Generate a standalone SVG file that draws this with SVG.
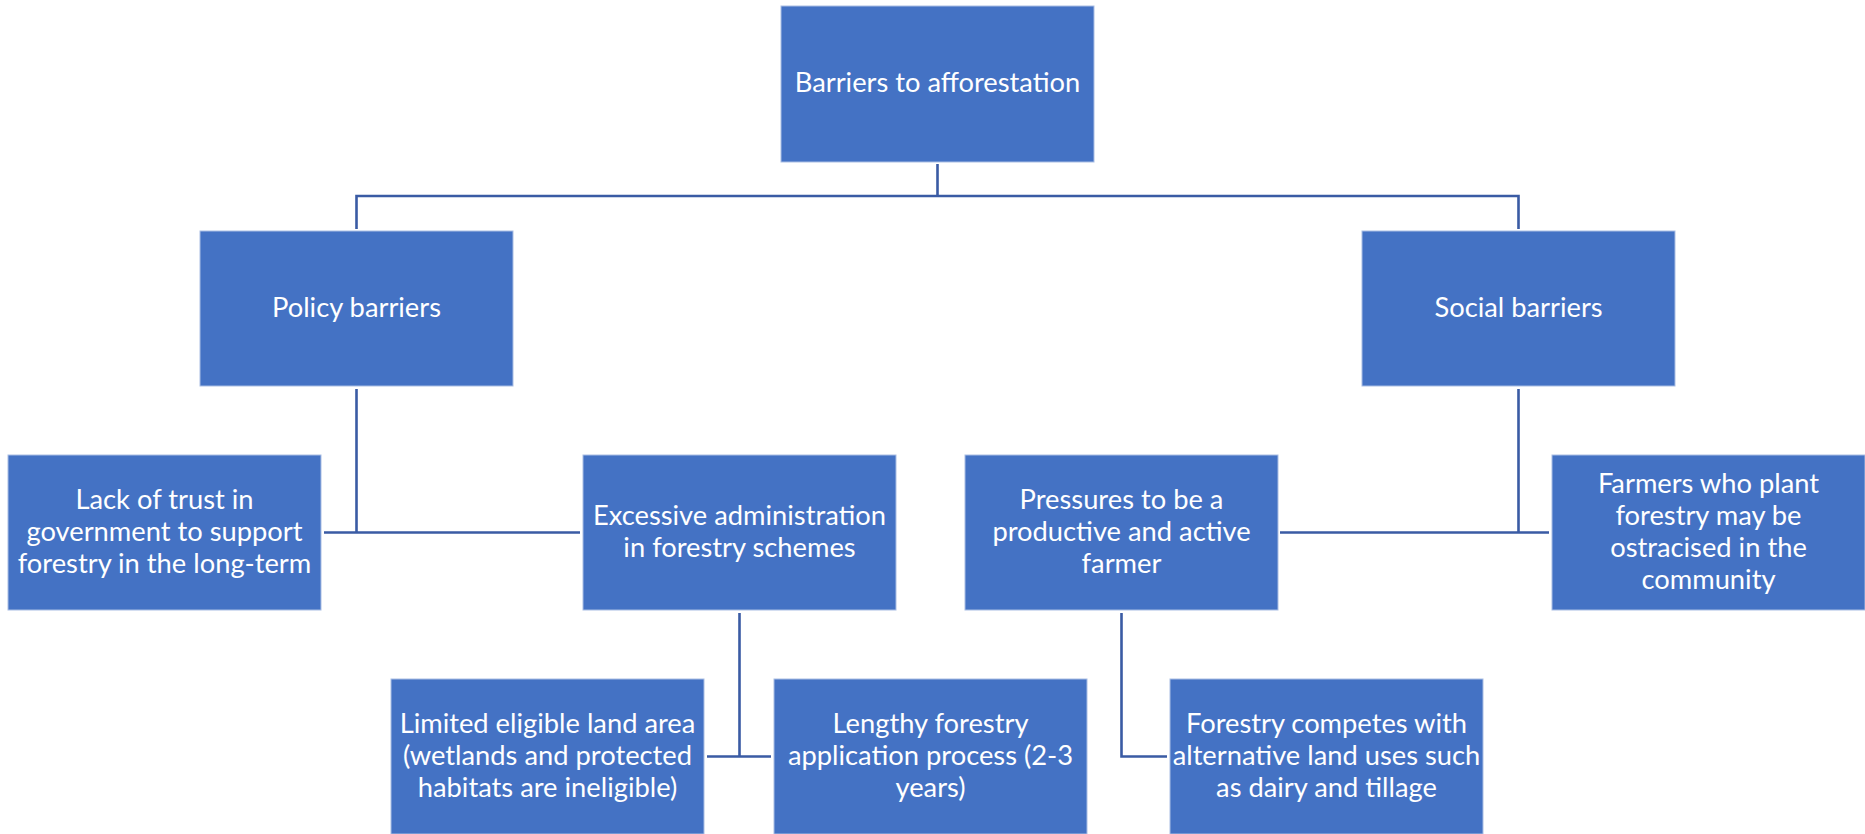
<svg xmlns="http://www.w3.org/2000/svg" width="1865" height="834" viewBox="0 0 1865 834">
<style>
.box{fill:#4472C4;stroke:#A9BEE4;stroke-width:1}
.t{font-family:Lato,"Open Sans","Liberation Sans",sans-serif;font-size:27.3px;fill:#FFFFFF;text-anchor:middle}
.c{fill:none;stroke:#3A5BA4;stroke-width:2.6}
</style>
<rect width="1865" height="834" fill="#FFFFFF"/>
<g id="connectors">
<path class="c" d="M937.5,164 V196 M356.5,196 H1518.5 M356.5,194.7 V229 M1518.5,194.7 V229"/>
<path class="c" d="M356.5,389 V532.5 M324,532.5 H580"/>
<path class="c" d="M1518.5,389 V532.5 M1280,532.5 H1549"/>
<path class="c" d="M739.5,613 V756.5 M707,756.5 H771"/>
<path class="c" d="M1121.5,613 V756.5 H1167"/>
</g>
<g id="root">
<rect class="box" x="781" y="6" width="313" height="156"/>
<text class="t" x="937.5" y="92">Barriers to afforestation</text>
</g>
<g id="policy">
<rect class="box" x="200" y="231" width="313" height="155"/>
<text class="t" x="356.5" y="317">Policy barriers</text>
</g>
<g id="social">
<rect class="box" x="1362" y="231" width="313" height="155"/>
<text class="t" x="1518.5" y="317">Social barriers</text>
</g>
<g id="lack">
<rect class="box" x="8" y="455" width="313" height="155"/>
<text class="t" x="164.5" y="509">Lack of trust in</text>
<text class="t" x="164.5" y="541">government to support</text>
<text class="t" x="164.5" y="573">forestry in the long-term</text>
</g>
<g id="excessive">
<rect class="box" x="583" y="455" width="313" height="155"/>
<text class="t" x="739.5" y="525">Excessive administration</text>
<text class="t" x="739.5" y="557">in forestry schemes</text>
</g>
<g id="pressures">
<rect class="box" x="965" y="455" width="313" height="155"/>
<text class="t" x="1121.5" y="509">Pressures to be a</text>
<text class="t" x="1121.5" y="541">productive and active</text>
<text class="t" x="1121.5" y="573">farmer</text>
</g>
<g id="farmers">
<rect class="box" x="1552" y="455" width="313" height="155"/>
<text class="t" x="1708.5" y="493">Farmers who plant</text>
<text class="t" x="1708.5" y="525">forestry may be</text>
<text class="t" x="1708.5" y="557">ostracised in the</text>
<text class="t" x="1708.5" y="589">community</text>
</g>
<g id="limited">
<rect class="box" x="391" y="679" width="313" height="155"/>
<text class="t" x="547.5" y="733">Limited eligible land area</text>
<text class="t" x="547.5" y="765">(wetlands and protected</text>
<text class="t" x="547.5" y="797">habitats are ineligible)</text>
</g>
<g id="lengthy">
<rect class="box" x="774" y="679" width="313" height="155"/>
<text class="t" x="930.5" y="733">Lengthy forestry</text>
<text class="t" x="930.5" y="765">application process (2-3</text>
<text class="t" x="930.5" y="797">years)</text>
</g>
<g id="forestry">
<rect class="box" x="1170" y="679" width="313" height="155"/>
<text class="t" x="1326.5" y="733">Forestry competes with</text>
<text class="t" x="1326.5" y="765">alternative land uses such</text>
<text class="t" x="1326.5" y="797">as dairy and tillage</text>
</g>
</svg>
